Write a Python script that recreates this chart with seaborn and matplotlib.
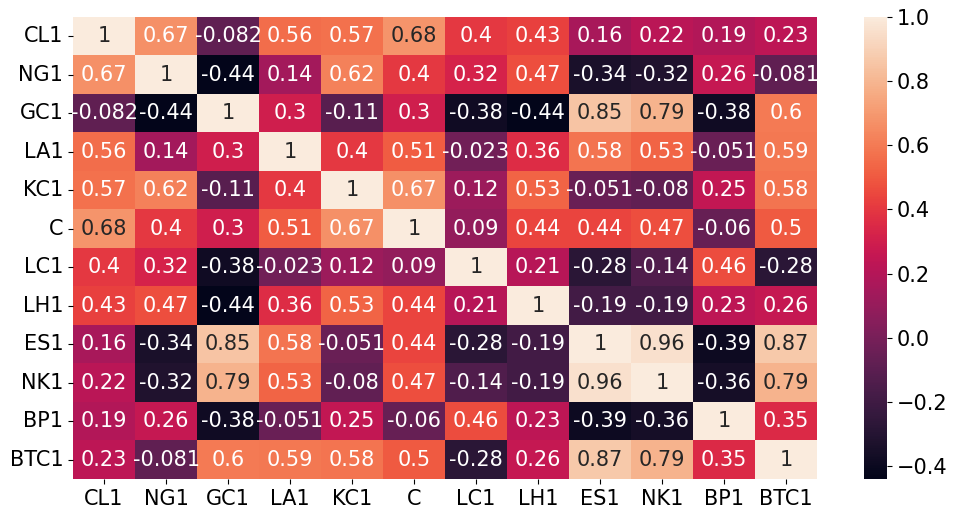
import numpy as np
import pandas as pd
import seaborn as sns
import matplotlib
matplotlib.use('Agg')
import matplotlib.pyplot as plt

labels = ['CL1', 'NG1', 'GC1', 'LA1', 'KC1', 'C', 'LC1', 'LH1', 'ES1', 'NK1', 'BP1', 'BTC1']

row_CL1 = [1, 0.67, -0.082, 0.56, 0.57, 0.68, 0.4, 0.43, 0.16, 0.22, 0.19, 0.23]
row_NG1 = [0.67, 1, -0.44, 0.14, 0.62, 0.4, 0.32, 0.47, -0.34, -0.32, 0.26, -0.081]
row_GC1 = [-0.082, -0.44, 1, 0.3, -0.11, 0.3, -0.38, -0.44, 0.85, 0.79, -0.38, 0.6]
row_LA1 = [0.56, 0.14, 0.3, 1, 0.4, 0.51, -0.023, 0.36, 0.58, 0.53, -0.051, 0.59]
row_KC1 = [0.57, 0.62, -0.11, 0.4, 1, 0.67, 0.12, 0.53, -0.051, -0.08, 0.25, 0.58]
row_C = [0.68, 0.4, 0.3, 0.51, 0.67, 1, 0.09, 0.44, 0.44, 0.47, -0.06, 0.5]
row_LC1 = [0.4, 0.32, -0.38, -0.023, 0.12, 0.09, 1, 0.21, -0.28, -0.14, 0.46, -0.28]
row_LH1 = [0.43, 0.47, -0.44, 0.36, 0.53, 0.44, 0.21, 1, -0.19, -0.19, 0.23, 0.26]
row_ES1 = [0.16, -0.34, 0.85, 0.58, -0.051, 0.44, -0.28, -0.19, 1, 0.96, -0.39, 0.87]
row_NK1 = [0.22, -0.32, 0.79, 0.53, -0.08, 0.47, -0.14, -0.19, 0.96, 1, -0.36, 0.79]
row_BP1 = [0.19, 0.26, -0.38, -0.051, 0.25, -0.06, 0.46, 0.23, -0.39, -0.36, 1, 0.35]
row_BTC1 = [0.23, -0.081, 0.6, 0.59, 0.58, 0.5, -0.28, 0.26, 0.87, 0.79, 0.35, 1]

corr = pd.DataFrame([row_CL1, row_NG1, row_GC1, row_LA1, row_KC1, row_C,
                     row_LC1, row_LH1, row_ES1, row_NK1, row_BP1, row_BTC1],
                    index=labels, columns=labels)

plt.rcParams['font.size'] = 15
fig = plt.figure(figsize=(9.57, 5.19), dpi=100)
ax = fig.add_axes([0.0763, 0.0771, 0.7774, 0.8902])
cax = fig.add_axes([0.9028, 0.0771, 0.024, 0.8902])
sns.heatmap(corr, annot=True, ax=ax, cbar_ax=cax)
ax.tick_params(labelsize=15)
ax.set_yticklabels(ax.get_yticklabels(), rotation=0)
cax.tick_params(labelsize=15)
plt.savefig('out.png', dpi=100)
